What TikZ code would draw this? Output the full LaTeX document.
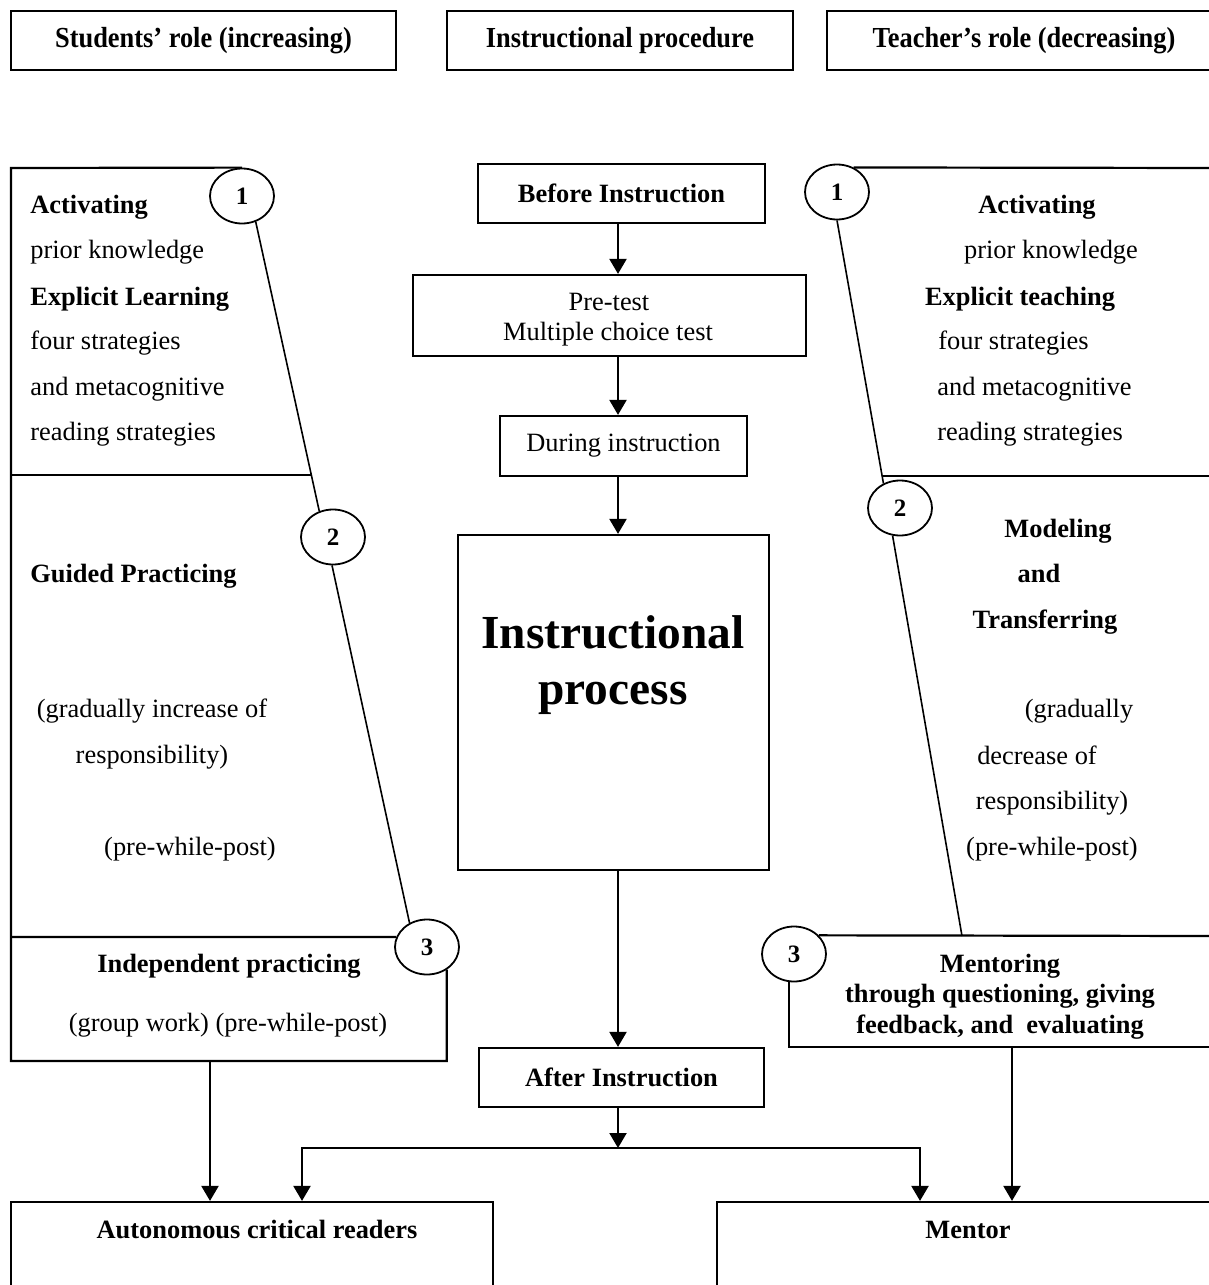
\documentclass[tikz,border=0pt]{standalone}
\usepackage{fontspec}
\setmainfont{Liberation Serif}
\usetikzlibrary{shapes.geometric,arrows.meta}
\begin{document}
\begin{tikzpicture}[x=0.5pt,y=-0.5pt,
  body/.style={font=\fontsize{13.2}{15.5}\selectfont, inner sep=0pt},
  bbody/.style={font=\fontsize{13.2}{15.5}\selectfont\bfseries, inner sep=0pt},
  big/.style={font=\fontsize{23.7}{28}\selectfont\bfseries, inner sep=0pt},
  box/.style={draw, line width=1.1pt, inner sep=0pt, align=center},
  panel/.style={line width=1.1pt},
  slant/.style={line width=0.8pt},
  num/.style={draw, ellipse, line width=0.9pt, minimum width=32pt, minimum height=27.5pt,
              inner sep=0pt, font=\fontsize{12.5}{14}\selectfont\bfseries},
  arr/.style={line width=1.1pt, -{Triangle[width=8.5pt,length=7.5pt]}}
]
\useasboundingbox (0,0) rectangle (1209,1285);
\clip (0,0) rectangle (1209,1285);
\fill[white] (0,0) rectangle (1209,1285);

% column headers
\node[box,bbody,minimum width=192.5pt,minimum height=29.5pt] (hstud) at (203.5,40.5) {\scalebox{1}[1.1]{Students’ role (increasing)}};
\node[box,bbody,minimum width=173pt,minimum height=29.5pt] (hproc) at (620,40.5) {\scalebox{1}[1.1]{Instructional procedure}};
\node[box,bbody,minimum width=197pt,minimum height=29.5pt] (hteach) at (1024,40.5) {\scalebox{1}[1.1]{Teacher’s role (decreasing)}};

% central procedure
\node[box,bbody,minimum width=143.5pt,minimum height=29.5pt] (before) at (621.5,193.5) {Before Instruction};
\node[box,minimum width=196.5pt,minimum height=40.5pt] (pretest) at (609.5,315.5) {};
\node[body,anchor=base] (pretest1) at (609,310) {Pre-test};
\node[body,anchor=base] (pretest2) at (608,340) {Multiple choice test};
\node[box,body,minimum width=123.5pt,minimum height=30pt] (during) at (623.5,446) {During instruction};
\node[box,minimum width=155.5pt,minimum height=167.5pt] (proc) at (613.5,702.5) {};
\node[big,anchor=base] (proc1) at (613,648) {Instructional};
\node[big,anchor=base] (proc2) at (613,704) {process};
\node[box,bbody,minimum width=142.5pt,minimum height=29.5pt] (after) at (621.5,1077.5) {After Instruction};

% outcome boxes
\node[box,minimum width=241pt,minimum height=49pt] (auton) at (252,1251) {};
\node[bbody,anchor=base] (autontext) at (257,1238) {Autonomous critical readers};
\node[box,minimum width=254pt,minimum height=49pt] (mentor) at (971,1251) {};
\node[bbody,anchor=base] (mentortext) at (968,1238) {Mentor};

% numbered stages
\node[num] (c1L) at (242,196) {1};
\node[num] (c2L) at (333,537) {2};
\node[num] (c3L) at (427,947) {3};
\node[num] (c1R) at (837,192) {1};
\node[num] (c2R) at (900,508) {2};
\node[num] (c3R) at (794,954) {3};

% student panel outline
\draw[panel] (c3L.-49) |- (11,1061) -- (11,168) -- (c1L.north);
\coordinate (ldiv) at (311,475);
\draw[panel] (11,475) -- (ldiv);
\draw[panel] (11,937) -- (c3L.162);
\draw[slant] (c1L.298) -- (c2L.118);
\draw[slant] (c2L.268) -- (c3L.126);

% teacher panel outline
\coordinate (rdiv) at (883,476);
\coordinate (mtop) at (962,936);
\draw[panel] (c1R.56) -- (1215,168);
\draw[panel] (rdiv) -- (1215,476);
\draw[slant] (c1R.south) -- (c2R.124);
\draw[slant] (c2R.255) -- (mtop);
\draw[panel] (c3R.37) -- (1215,936);
\draw[panel] (c3R.260) |- (1215,1047);

% student panel texts
\node[bbody,anchor=base west] (sa1) at (30,213) {Activating};
\node[body,anchor=base west] (sa2) at (30,258) {prior knowledge};
\node[bbody,anchor=base west] (sa3) at (30,305) {Explicit Learning};
\node[body,anchor=base west] (sa4) at (30,349) {four strategies};
\node[body,anchor=base west] (sa5) at (30,395) {and metacognitive};
\node[body,anchor=base west] (sa6) at (30,440) {reading strategies};
\node[bbody,anchor=base west] (sg1) at (30,582) {Guided Practicing};
\node[body,anchor=base] (sg2) at (152,717) {(gradually increase of};
\node[body,anchor=base] (sg3) at (152,763) {responsibility)};
\node[body,anchor=base] (sg4) at (190,855) {(pre-while-post)};
\node[bbody,anchor=base] (si1) at (229,972) {Independent practicing};
\node[body,anchor=base] (si2) at (228,1031) {(group work) (pre-while-post)};

% teacher panel texts
\node[bbody,anchor=base] (ta1) at (1037,213) {Activating};
\node[body,anchor=base] (ta2) at (1051,258) {prior knowledge};
\node[bbody,anchor=base] (ta3) at (1020,305) {Explicit teaching};
\node[body,anchor=base west] (ta4) at (938,349) {four strategies};
\node[body,anchor=base west] (ta5) at (937,395) {and metacognitive};
\node[body,anchor=base west] (ta6) at (937,440) {reading strategies};
\node[bbody,anchor=base] (tm1) at (1058,537) {Modeling};
\node[bbody,anchor=base] (tm2) at (1039,582) {and};
\node[bbody,anchor=base] (tm3) at (1045,628) {Transferring};
\node[body,anchor=base] (tm4) at (1079,717) {(gradually};
\node[body,anchor=base] (tm5) at (1037,764) {decrease of};
\node[body,anchor=base] (tm6) at (1052,809) {responsibility)};
\node[body,anchor=base] (tm7) at (1052,855) {(pre-while-post)};
\node[bbody,anchor=base] (tt1) at (1000,972) {Mentoring};
\node[bbody,anchor=base] (tt2) at (1000,1002) {through questioning, giving};
\node[bbody,anchor=base] (tt3) at (1000,1033) {feedback, and\ \ evaluating};

% connectors
\coordinate (xc) at (618,0);
\coordinate (jn) at (618,1148);
\coordinate (jl) at (302,1148);
\coordinate (jr) at (920,1148);
\coordinate (indb) at (210,1061);
\coordinate (mentb) at (1012,1047);
\draw[arr] (before.south -| xc) -- (pretest.north -| xc);
\draw[arr] (pretest.south -| xc) -- (during.north -| xc);
\draw[arr] (during.south -| xc) -- (proc.north -| xc);
\draw[arr] (proc.south -| xc) -- (after.north -| xc);
\draw[arr] (after.south -| xc) -- (jn);
\draw[arr] (jn) -- (jl) -- (jl |- auton.north);
\draw[arr] (jn) -- (jr) -- (jr |- mentor.north);
\draw[arr] (indb) -- (indb |- auton.north);
\draw[arr] (mentb) -- (mentb |- mentor.north);
\end{tikzpicture}
\end{document}
